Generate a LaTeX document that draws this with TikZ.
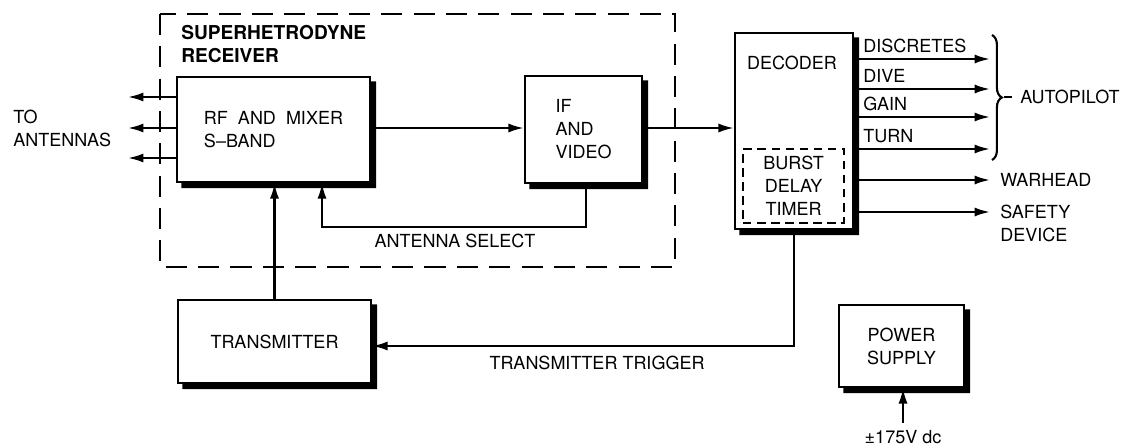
\documentclass[tikz,border=0pt]{standalone}
\usepackage{fontspec}
\setmainfont{TeX Gyre Heros}
\usetikzlibrary{arrows.meta,decorations.pathreplacing}

\begin{document}
\begin{tikzpicture}[
        x=0.025cm, y=-0.025cm,
        font=\fontsize{12.8}{16.4}\selectfont,
        bloque/.style={draw=black, line width=1.7pt, fill=white, inner sep=0pt, align=left},
        sombra/.style={fill=black},
        flecha/.style={line width=1.5pt, -{Latex[length=11pt, width=6.5pt]}},
        linea/.style={line width=1.5pt},
        rayas/.style={line width=1.3pt, dash pattern=on 15pt off 8pt},
        texto/.style={inner sep=0pt, align=left}
    ]
        \useasboundingbox (0,0) rectangle (1137,447);

        % Receptor
        \draw[rayas] (160,14) rectangle (675,267);
        \node[texto, anchor=north west, font=\fontsize{13.6}{16.4}\selectfont\bfseries] (tit) at (181,25) {SUPERHETRODYNE\\RECEIVER};

        % Bloques
        \node[bloque, minimum width=193*0.025cm, minimum height=105*0.025cm] (rf) at (273.5,129.5) {RF\ \ AND\ \ MIXER\\S--BAND};
        \node[bloque, minimum width=117*0.025cm, minimum height=107*0.025cm] (ifv) at (583.5,129.5) {IF\\AND\\VIDEO};
        \node[bloque, minimum width=118*0.025cm, minimum height=196*0.025cm] (dec) at (794,131) {};
        \node[texto] (dectxt) at (792,63) {DECODER};
        \node[draw=black, line width=1.3pt, dash pattern=on 6pt off 4pt, minimum width=101*0.025cm,
            minimum height=74*0.025cm, align=center, inner sep=0pt] (burst) at (793.5,186) {BURST\\DELAY\\TIMER};
        \node[bloque, minimum width=193*0.025cm, minimum height=83*0.025cm] (tx) at (274.5,341.5) {TRANSMITTER};
        \node[bloque, minimum width=125*0.025cm, minimum height=82*0.025cm, align=center] (pwr) at (901.5,346) {POWER\\SUPPLY};

        % Sombras
        \foreach \b in {rf,ifv,dec,tx,pwr}
            \fill[sombra] ([yshift=-4pt]\b.north east) -- ++(3.5pt,0) |- ([xshift=4pt, yshift=-3.5pt]\b.south west)
                -- ++(0,3.5pt) -| cycle;

        % Antenas
        \coordinate (ant1) at (128,97);
        \coordinate (ant2) at (128,128);
        \coordinate (ant3) at (128,158);
        \foreach \a in {ant1,ant2,ant3}
            \draw[flecha] (rf.west |- \a) -- (\a);
        \node[texto] (toant) at (13,128.5) [anchor=west] {TO\\ANTENNAS};

        % Cadena de senal
        \draw[flecha] (rf.east |- 0,128) -- (ifv.west |- 0,128);
        \draw[flecha] (ifv.east |- 0,128) -- (dec.west |- 0,128);

        % Seleccion de antena
        \coordinate (asel) at (322,227);
        \draw[flecha] (ifv.south -| 586,0) |- (asel) -- (asel |- rf.south);
        \node[texto] (seltxt) at (455,241) {ANTENNA SELECT};

        % Transmisor
        \draw[flecha] (tx.north) -- (tx.north |- rf.south);
        \coordinate (trig) at (794,346);
        \draw[flecha] (dec.south) -- (trig) -- (trig -| tx.east);
        \node[texto] (trigtxt) at (597,363) {TRANSMITTER TRIGGER};

        % Salidas del decodificador
        \foreach \y/\nom in {59/DISCRETES, 89/DIVE, 117/GAIN, 149/TURN}{
            \coordinate (o\y) at (990,\y);
            \draw[flecha] (dec.east |- o\y) -- (o\y);
            \node[texto, anchor=base west] at (863,\y-7) {\nom};
        }
        \draw[linea, decorate, decoration={brace, amplitude=7pt}] (992,35) -- (992,160);
        \node[texto, anchor=west] (auto) at (1020,97) {AUTOPILOT};
        \draw[linea] (1004,97) -- (1012,97);

        \node[texto, anchor=west] (war) at (1000,180) {WARHEAD};
        \draw[flecha] (dec.east |- war) -- (990,180);
        \node[texto, anchor=west] (safe) at (1000,223.5) {SAFETY\\DEVICE};
        \coordinate (sd) at (990,212);
        \draw[flecha] (dec.east |- sd) -- (sd);

        % Alimentacion
        \coordinate (vin) at (903,423);
        \draw[flecha] (vin) -- (vin |- pwr.south);
        \node[texto] (volt) at (903,437) {±175V dc};
    \end{tikzpicture}
\end{document}
